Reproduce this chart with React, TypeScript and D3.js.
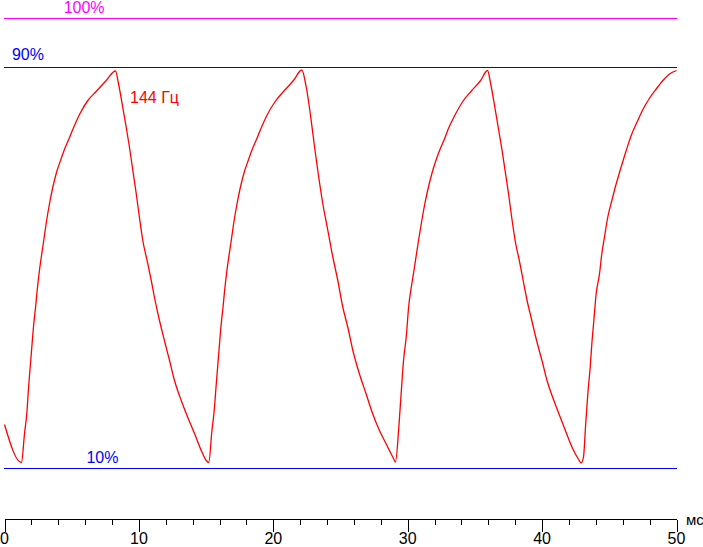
import React from "react";
import * as d3 from "d3";

// time (ms) and brightness (%)
const timeMs: number[] = [
  0, 1.26, 1.49, 1.66, 1.79, 1.91, 2.03, 2.18, 2.31, 2.43, 2.6, 2.92, 3.1, 3.35, 3.59, 3.89, 4.22, 4.46, 4.84, 5.08, 5.58, 6.2, 6.82, 7.57, 8.26,
  8.48, 8.8, 9.06, 9.3, 9.55, 9.8, 10.04, 10.29, 10.66, 10.92, 11.16, 11.48, 11.9, 12.28, 12.65, 13.15, 13.64, 14.14, 14.64, 15.01, 15.2,
  15.43, 15.6, 15.73, 15.85, 15.97, 16.12, 16.25, 16.37, 16.54, 16.86, 17.04, 17.29, 17.53, 17.83, 18.16, 18.4, 18.78, 19.02, 19.52, 20.14, 20.76, 21.5, 22.12,
  22.45, 22.82, 23.07, 23.31, 23.68, 24.06, 24.43, 24.8, 25.17, 25.54, 25.92, 26.41, 26.91, 27.4, 27.9, 28.4, 28.89, 29.09,
  29.34, 29.51, 29.69, 29.89, 30.08, 30.3, 30.5, 30.8, 31.0, 31.25, 31.5, 31.8, 32.1, 32.4, 32.75, 33.0, 33.5, 34.1, 34.7, 35.4, 35.94,
  36.17, 36.5, 36.75, 37.0, 37.25, 37.5, 37.75, 38.0, 38.35, 38.6, 38.85, 39.2, 39.6, 40.0, 40.4, 40.85, 41.3, 41.79, 42.29, 42.72, 42.91,
  43.08, 43.23, 43.4, 43.58, 43.7, 43.85, 44.02, 44.27, 44.44, 44.64, 44.89, 45.19, 45.51, 45.88, 46.26, 46.63, 47.12, 47.5, 48.0, 48.49, 48.99, 49.48, 50.0,
];
const brightness: number[] = [
  18.8, 11.2, 17, 21, 26.2, 30.2, 34.2, 39, 42.2, 45.6, 49.6, 55.6, 59, 63, 66.2, 69.4, 72, 73.8, 76.2, 77.8, 80.8, 83.6, 85.4, 87.6, 89.5,
  87, 82.2, 78.2, 74.2, 69.6, 65, 60.2, 55.6, 51, 47.6, 44.2, 40.2, 35.6, 31.6, 27.6, 23.6, 20.2, 17, 13.6, 11.6, 11.2,
  17.5, 21.5, 26, 30, 34, 38.8, 42, 45.4, 49.4, 55.4, 58.8, 62.8, 66, 69.2, 71.8, 73.6, 76, 77.6, 80.6, 83.4, 85.4, 87.6, 89.7,
  86.3, 79.6, 74.3, 69.6, 63, 57.6, 52.3, 47.6, 42.3, 38.3, 33.6, 28.9, 24.9, 20.9, 17.6, 14.9, 12.3, 11.3,
  18.3, 24.9, 31.6, 36.3, 42.6, 46.8, 50.2, 55.5, 58.8, 62.6, 65.8, 69, 71.6, 73.8, 76, 77.8, 80.6, 83.4, 85.4, 87.5, 89.6,
  87, 82, 78, 74, 69.5, 65, 60, 55.5, 51, 47.5, 44, 40, 35.5, 31.5, 27.3, 23.8, 20.6, 17.2, 13.9, 11.8, 11.1,
  12.3, 18.3, 24.9, 30.3, 34.9, 39.6, 44.9, 48.9, 52.9, 56.3, 60.3, 63.6, 66.9, 70.3, 73.6, 76.6, 79.6, 81.8, 84.1, 85.9, 87.6, 88.9, 89.6,
];

const refLevels: number[] = [100, 90, 10];
const refLabels: string[] = ["100%", "90%", "10%"];
const refColors: string[] = ["#ff00ff", "#0000ff", "#0000ff"];
const refLabelX: number[] = [4.4, 0.55, 6.1]; // label position in ms
const refLabelRise: number[] = [6, 8, 6]; // label baseline above its line, px
const majorTicks: number[] = [0, 10, 20, 30, 40, 50];
const minorTicks: number[] = d3.range(0, 50.01, 2);
const seriesLabel = "144 Гц";
const unitLabel = "мс";

const W = 703;
const H = 547;
const FONT = "'Liberation Sans', Arial, sans-serif";

export default function App() {
  const x = d3.scaleLinear().domain([0, 50]).range([4.5, 676.5]);
  const y = d3.scaleLinear().domain([0, 100]).range([518.5, 18.5]);
  const pts: [number, number][] = timeMs.map((t, i) => [t, brightness[i]]);
  const line = d3
    .line<[number, number]>()
    .x((d) => x(d[0]))
    .y((d) => y(d[1]))
    .curve(d3.curveMonotoneX);
  const axisY = 519.5;

  return (
    <svg
      width={W}
      height={H}
      style={{ position: "absolute", left: 0, top: 0, background: "#fff" }}
      fontFamily={FONT}
      fontSize={16}
    >
      <rect width={W} height={H} fill="#fff" />
      {refLevels.map((lv, i) => (
        <g key={lv}>
          <line
            x1={4}
            x2={677}
            y1={Math.round(y(lv)) - 0.5}
            y2={Math.round(y(lv)) - 0.5}
            stroke={refColors[i]}
            strokeWidth={1}
            shapeRendering="crispEdges"
          />
          <text x={x(refLabelX[i])} y={Math.round(y(lv)) - refLabelRise[i]} fill={refColors[i]}>
            {refLabels[i]}
          </text>
        </g>
      ))}
      <path d={line(pts) || ""} fill="none" stroke="#ff0000" strokeWidth={1.3} />
      <text x={130} y={103} fill="#ff0000">
        {seriesLabel}
      </text>
      <line x1={x(0)} x2={x(50)} y1={axisY} y2={axisY} stroke="#000" shapeRendering="crispEdges" />
      {minorTicks.map((t) => (
        <line
          key={"m" + t}
          x1={Math.round(x(t)) + 0.5}
          x2={Math.round(x(t)) + 0.5}
          y1={axisY}
          y2={525}
          stroke="#000"
          shapeRendering="crispEdges"
        />
      ))}
      {majorTicks.map((t) => (
        <g key={"M" + t}>
          <line
            x1={Math.round(x(t)) + 0.5}
            x2={Math.round(x(t)) + 0.5}
            y1={axisY}
            y2={532}
            stroke="#000"
            shapeRendering="crispEdges"
          />
          <text x={x(t)} y={544} textAnchor="middle" fill="#000">
            {t}
          </text>
        </g>
      ))}
      <text x={686} y={525} fill="#000" fontSize={15}>
        {unitLabel}
      </text>
    </svg>
  );
}
